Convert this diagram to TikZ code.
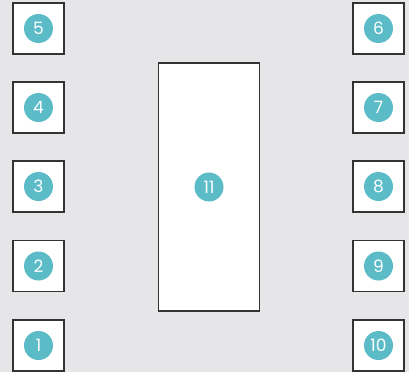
\documentclass[tikz,border=0pt]{standalone}
\usepackage{fontspec}
\setmainfont{Poppins}
\definecolor{bg}{HTML}{E6E6E8}
\definecolor{teal}{HTML}{5BBCC8}
\definecolor{edge}{HTML}{333333}
\begin{document}
\begin{tikzpicture}[x=1pt,y=-1pt,
  sq/.style={draw=edge,line width=1.1pt,fill=white,minimum width=51pt,minimum height=51pt,inner sep=0pt},
  num/.style={circle,fill=teal,text=white,minimum size=29pt,inner sep=0pt,font=\fontsize{17}{17}\selectfont}]
\fill[bg] (0,0) rectangle (409,372);
\useasboundingbox (0,0) rectangle (409,372);
\node[sq] (b5) at (38.5,28.5) {};
\node[sq] (b4) at (38.5,107.5) {};
\node[sq] (b3) at (38.5,186.5) {};
\node[sq] (b2) at (38.5,266) {};
\node[sq] (b1) at (38.5,345.5) {};
\node[sq] (b6) at (378.5,28.5) {};
\node[sq] (b7) at (378.5,107.5) {};
\node[sq] (b8) at (378.5,186.5) {};
\node[sq] (b9) at (378.5,266) {};
\node[sq] (b10) at (378.5,345.5) {};
\node[sq,minimum width=101pt,minimum height=248pt] (b11) at (209,187) {};
\foreach \n in {1,...,11} {\node[num] (n\n) at (b\n.center) {\n};}
\end{tikzpicture}
\end{document}
